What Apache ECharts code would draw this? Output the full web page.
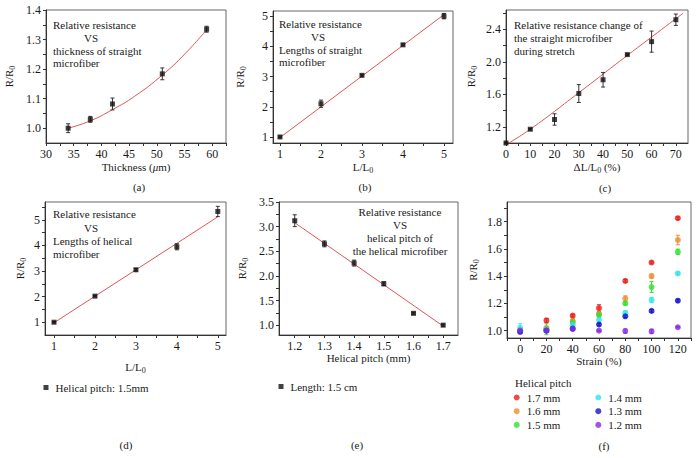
<!DOCTYPE html>
<html><head><meta charset="utf-8">
<script src="https://cdn.jsdelivr.net/npm/echarts@6/dist/echarts.min.js"></script>
<style>html,body{margin:0;padding:0;background:#fff}#c{width:698px;height:458px}</style>
</head><body><div id="c"></div>
<script>
// ---------- data ----------
// (a) thickness
const aX = [34, 38, 42, 51, 59];
const aY = [1.0, 1.03, 1.082, 1.184, 1.335];
const aErr = [0.015, 0.01, 0.02, 0.02, 0.01];
const aFitX = [34, 38, 42, 46, 51, 55, 59];
const aFitY = [1.0, 1.025, 1.063, 1.108, 1.18, 1.25, 1.333];
const aXLabels = [30, 35, 40, 45, 50, 55, 60];
const aXMinor = [32.5, 37.5, 42.5, 47.5, 52.5, 57.5, 62.5];
const aYLabels = [1.0, 1.1, 1.2, 1.3, 1.4];
const aYMinor = [1.05, 1.15, 1.25, 1.35];
// (b) length straight
const bX = [1, 2, 3, 4, 5];
const bY = [1.0, 2.1, 3.04, 4.05, 5.0];
const bErr = [0.03, 0.12, 0.03, 0.03, 0.09];
const bFitX = [1, 5];
const bFitY = [0.98, 5.05];
const bXLabels = [1, 2, 3, 4, 5];
const bXMinor = [1.5, 2.5, 3.5, 4.5];
const bYLabels = [1, 2, 3, 4, 5];
const bYMinor = [1.5, 2.5, 3.5, 4.5];
// (c) stretch
const cX = [0, 10, 20, 30, 40, 50, 60, 70];
const cY = [1.0, 1.17, 1.29, 1.61, 1.78, 2.09, 2.25, 2.52];
const cErr = [0.01, 0.01, 0.07, 0.11, 0.09, 0.01, 0.13, 0.07];
const cFitX = [0, 10, 30, 50, 73];
const cFitY = [0.98, 1.17, 1.62, 2.08, 2.6];
const cXLabels = [0, 10, 20, 30, 40, 50, 60, 70];
const cXMinor = [5, 15, 25, 35, 45, 55, 65];
const cYLabels = [1.2, 1.6, 2.0, 2.4];
const cYMinor = [1.4, 1.8, 2.2, 2.6];
// (d) length helical
const dX = [1, 2, 3, 4, 5];
const dY = [1.0, 2.02, 3.05, 3.95, 5.33];
const dErr = [0.03, 0.03, 0.05, 0.12, 0.2];
const dFitX = [1, 5];
const dFitY = [0.98, 5.12];
const dXLabels = [1, 2, 3, 4, 5];
const dXMinor = [1.5, 2.5, 3.5, 4.5];
const dYLabels = [1, 2, 3, 4, 5];
const dYMinor = [1.5, 2.5, 3.5, 4.5, 5.5];
// (e) helical pitch
const eX = [1.2, 1.3, 1.4, 1.5, 1.6, 1.7];
const eY = [3.12, 2.65, 2.26, 1.84, 1.24, 1.0];
const eErr = [0.12, 0.06, 0.06, 0.04, 0.02, 0.02];
const eFitX = [1.2, 1.7];
const eFitY = [3.08, 0.98];
const eXLabels = [1.2, 1.3, 1.4, 1.5, 1.6, 1.7];
const eXMinor = [1.25, 1.35, 1.45, 1.55, 1.65];
const eYLabels = [1.0, 1.5, 2.0, 2.5, 3.0, 3.5];
const eYMinor = [1.25, 1.75, 2.25, 2.75, 3.25];
// (f) strain
const fX = [0, 20, 40, 60, 80, 100, 120];
const fNames = ['1.7 mm', '1.6 mm', '1.5 mm', '1.4 mm', '1.3 mm', '1.2 mm'];
const fColors = ['#ee1c1c', '#f28a2e', '#2ee22e', '#2ee4f2', '#1414c8', '#8a2be2'];
const f17 = [1.0, 1.075, 1.11, 1.165, 1.365, 1.5, 1.825];
const f16 = [1.0, 1.02, 1.07, 1.125, 1.235, 1.4, 1.665];
const f15 = [1.0, 1.01, 1.06, 1.115, 1.2, 1.32, 1.578];
const f14 = [1.02, 1.01, 1.04, 1.08, 1.13, 1.225, 1.42];
const f13 = [0.99, 1.0, 1.015, 1.045, 1.105, 1.145, 1.22];
const f12 = [1.0, 1.0, 1.012, 1.0, 0.997, 0.995, 1.025];
const f17e = [0.01, 0.015, 0.01, 0.025, 0.01, 0.01, 0.01];
const f16e = [0.01, 0.01, 0.02, 0.02, 0.02, 0.015, 0.035];
const f15e = [0.01, 0.04, 0.02, 0.015, 0.01, 0.04, 0.02];
const f14e = [0.03, 0.01, 0.01, 0.02, 0.015, 0.02, 0.01];
const f13e = [0.01, 0.01, 0.01, 0.01, 0.01, 0.01, 0.01];
const f12e = [0.015, 0.01, 0.01, 0.005, 0.015, 0.015, 0.005];
const fXLabels = [0, 20, 40, 60, 80, 100, 120];
const fXMinor = [-10, 10, 30, 50, 70, 90, 110, 130];
const fYLabels = [1.0, 1.2, 1.4, 1.6, 1.8];
const fYMinor = [1.1, 1.3, 1.5, 1.7, 1.9];

// ---------- helpers ----------
const FONT = 'Liberation Serif';
const TXT = '#1a1a1a';
const AX = '#333';
const zip = (xs, ys) => xs.map((x, i) => [x, ys[i]]);
const errData = (xs, ys, es) => xs.map((x, i) => [x, ys[i] - es[i], ys[i] + es[i]]);
const fix1 = v => v.toFixed(1);
const subRich = { s: { fontSize: 8, fontFamily: FONT, color: TXT, padding: [7, 0, 0, 0] } };

function errRender(color) {
  return function (params, api) {
    const x = api.value(0), lo = api.value(1), hi = api.value(2);
    const a = api.coord([x, lo]), b = api.coord([x, hi]);
    const w = 2;
    const st = { stroke: color, lineWidth: 1 };
    return { type: 'group', children: [
      { type: 'line', shape: { x1: a[0], y1: a[1], x2: b[0], y2: b[1] }, style: st },
      { type: 'line', shape: { x1: a[0] - w, y1: a[1], x2: a[0] + w, y2: a[1] }, style: st },
      { type: 'line', shape: { x1: b[0] - w, y1: b[1], x2: b[0] + w, y2: b[1] }, style: st }
    ] };
  };
}

const grids = [], xAxes = [], yAxes = [], series = [];

function axis(gi, o) {
  return {
    gridIndex: gi, type: 'value', min: o.min, max: o.max,
    axisLine: { show: true, onZero: false, lineStyle: { color: AX, width: 1 } },
    axisTick: { show: true, length: 3, customValues: o.labels.concat(o.minor), lineStyle: { color: AX } },
    axisLabel: { customValues: o.labels, fontFamily: FONT, fontSize: 12, color: TXT, margin: 5, formatter: o.fmt || (v => String(v)) },
    splitLine: { show: false },
    name: o.name, nameLocation: 'middle', nameGap: o.gap,
    nameTextStyle: { fontFamily: FONT, fontSize: 11, color: TXT, rich: Object.assign({}, subRich, { i: { fontStyle: 'italic', fontFamily: FONT, fontSize: 11, color: TXT } }) }
  };
}

function panel(g, xo, yo, pts, fit, smooth, sname) {
  const gi = grids.length;
  grids.push(Object.assign({ show: true, borderColor: '#666', borderWidth: 1, containLabel: false }, g));
  xAxes.push(axis(gi, xo));
  yAxes.push(axis(gi, yo));
  series.push({ type: 'line', xAxisIndex: gi, yAxisIndex: gi, data: zip(fit[0], fit[1]), symbol: 'none', smooth: smooth, lineStyle: { color: '#e05555', width: 1 }, z: 2, silent: true });
  series.push({ type: 'custom', xAxisIndex: gi, yAxisIndex: gi, data: errData(pts[0], pts[1], pts[2]), encode: { x: 0, y: [1, 2] }, renderItem: errRender('#333'), z: 3, silent: true });
  series.push({ type: 'scatter', name: sname, xAxisIndex: gi, yAxisIndex: gi, data: zip(pts[0], pts[1]), symbol: 'rect', symbolSize: 5, itemStyle: { color: '#111' }, z: 4, silent: true });
}

const RR = 'R/R{s|0}';
panel({ left: 46, top: 10, width: 180, height: 133 },
  { min: 30, max: 62.5, labels: aXLabels, minor: aXMinor, name: 'Thickness ({i|μ}m)', gap: 18 },
  { min: 0.95, max: 1.4, labels: aYLabels, minor: aYMinor, fmt: fix1, name: RR, gap: 30 },
  [aX, aY, aErr], [aFitX, aFitY], true, 'a');
panel({ left: 273, top: 11, width: 180, height: 132 },
  { min: 0.83, max: 5.22, labels: bXLabels, minor: bXMinor, name: 'L/L{s|0}', gap: 16 },
  { min: 0.8, max: 5.17, labels: bYLabels, minor: bYMinor, name: RR, gap: 26 },
  [bX, bY, bErr], [bFitX, bFitY], false, 'b');
panel({ left: 506, top: 10, width: 182, height: 133 },
  { min: 0, max: 75, labels: cXLabels, minor: cXMinor, name: 'ΔL/L{s|0} (%)', gap: 16 },
  { min: 1.0, max: 2.64, labels: cYLabels, minor: cYMinor, fmt: fix1, name: RR, gap: 28 },
  [cX, cY, cErr], [cFitX, cFitY], true, 'c');
panel({ left: 45, top: 202, width: 181, height: 133 },
  { min: 0.78, max: 5.2, labels: dXLabels, minor: dXMinor, name: 'L/L{s|0}', gap: 24 },
  { min: 0.5, max: 5.7, labels: dYLabels, minor: dYMinor, name: RR, gap: 18 },
  [dX, dY, dErr], [dFitX, dFitY], false, 'Helical pitch: 1.5mm');
panel({ left: 279, top: 202, width: 179, height: 133 },
  { min: 1.147, max: 1.75, labels: eXLabels, minor: eXMinor, fmt: fix1, name: 'Helical pitch (mm)', gap: 17 },
  { min: 0.8, max: 3.5, labels: eYLabels, minor: eYMinor, fmt: fix1, name: RR, gap: 30 },
  [eX, eY, eErr], [eFitX, eFitY], false, 'Length: 1.5 cm');

// (f)
const fg = grids.length;
grids.push({ show: true, borderColor: '#666', borderWidth: 1, containLabel: false, left: 507, top: 202, width: 184, height: 136 });
xAxes.push(axis(fg, { min: -10, max: 130, labels: fXLabels, minor: fXMinor, name: 'Strain (%)', gap: 17 }));
yAxes.push(axis(fg, { min: 0.946, max: 1.944, labels: fYLabels, minor: fYMinor, fmt: fix1, name: RR, gap: 27 }));
const fVals = [f17, f16, f15, f14, f13, f12];
const fErrs = [f17e, f16e, f15e, f14e, f13e, f12e];
fNames.forEach((n, k) => {
  series.push({ type: 'custom', xAxisIndex: fg, yAxisIndex: fg, data: errData(fX, fVals[k], fErrs[k]), encode: { x: 0, y: [1, 2] }, renderItem: errRender(fColors[k]), z: 3 + k * 0.01, silent: true });
  series.push({ type: 'scatter', name: n, xAxisIndex: fg, yAxisIndex: fg, data: zip(fX, fVals[k]), symbol: 'circle', symbolSize: 6, itemStyle: { color: fColors[k] }, z: 4 + k * 0.01, silent: true });
});

// ---------- annotations ----------
const texts = [];
function t(str, x, y, align) {
  texts.push({ type: 'text', silent: true, style: { text: str, x: x, y: y, font: '11px "' + FONT + '"', fill: TXT, textAlign: align || 'left', textVerticalAlign: 'middle' } });
}
// (a)
t('Relative resistance', 53, 25); t('VS', 91, 38, 'center'); t('thickness of straight', 53, 51); t('microfiber', 53, 63);
// (b)
t('Relative resistance', 279, 24); t('VS', 318, 37, 'center'); t('Lengths of straight', 279, 50); t('microfiber', 279, 62);
// (c)
t('Relative resistance change of', 514, 25); t('the straight microfiber', 514, 38); t('during stretch', 514, 51);
// (d)
t('Relative resistance', 53, 214); t('VS', 91, 228, 'center'); t('Lengths of helical', 53, 241); t('microfiber', 53, 254);
// (e)
t('Relative resistance', 400, 212, 'center'); t('VS', 400, 225, 'center'); t('helical pitch of', 400, 238, 'center'); t('the helical microfiber', 400, 251, 'center');
// (f)
t('Helical pitch', 515, 383);
// panel labels
t('(a)', 139, 187, 'center'); t('(b)', 365, 187, 'center'); t('(c)', 605, 188, 'center');
t('(d)', 126, 445, 'center'); t('(e)', 357, 445, 'center'); t('(f)', 604, 446, 'center');

const legBase = { selectedMode: false, textStyle: { fontFamily: FONT, fontSize: 11, color: TXT, padding: [0, 0, 0, 2] } };
const legends = [
  Object.assign({}, legBase, { data: ['Helical pitch: 1.5mm'], left: 38.5, top: 377, icon: 'rect', itemWidth: 5, itemHeight: 5 }),
  Object.assign({}, legBase, { data: ['Length: 1.5 cm'], left: 273.5, top: 376, icon: 'rect', itemWidth: 5, itemHeight: 5 }),
  Object.assign({}, legBase, { data: fNames.slice(0, 3), orient: 'vertical', left: 508.7, top: 387, icon: 'circle', itemWidth: 6, itemHeight: 6, itemGap: 2.7 }),
  Object.assign({}, legBase, { data: fNames.slice(3), orient: 'vertical', left: 590.3, top: 387, icon: 'circle', itemWidth: 6, itemHeight: 6, itemGap: 2.7 })
];

const chart = echarts.init(document.getElementById('c'), null, { renderer: 'svg' });
chart.setOption({
  animation: false,
  backgroundColor: '#fff',
  grid: grids, xAxis: xAxes, yAxis: yAxes, series: series,
  legend: legends,
  graphic: texts
});
</script></body></html>
